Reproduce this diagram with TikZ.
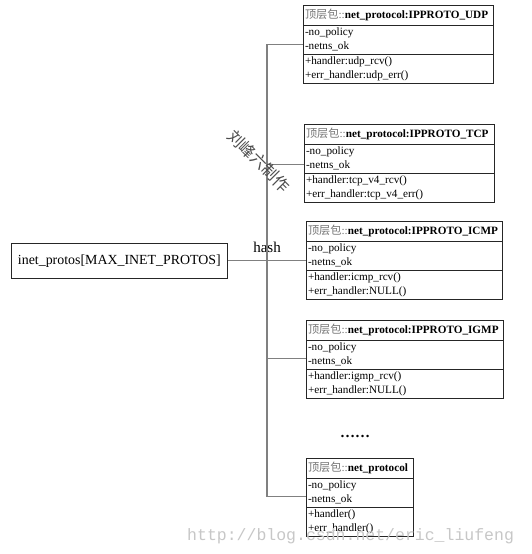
\documentclass[tikz,border=0pt]{standalone}
\usepackage{fontspec}
\setmainfont{Liberation Serif}
\setmonofont{Liberation Mono}
\newfontfamily\cjk{Noto Sans CJK SC}
\usetikzlibrary{positioning}
\tikzset{
  part/.style={rectangle, draw=black!85, line width=0.8pt, text width=#1,
    inner xsep=2pt, inner ysep=0pt, outer sep=0pt, align=left,
    font=\fontsize{11.2}{14}\selectfont},
  head/.style={part=#1, minimum height=20pt, anchor=north west},
  attr/.style={part=#1, minimum height=29pt},
  link/.style={draw=black!50, line width=1.5pt},
}
\newcommand{\pkgname}{\textcolor{black!55}{{\cjk 顶层包}::}}

\begin{document}
\begin{tikzpicture}[x=1pt, y=-1pt]
    \useasboundingbox (0,0) rectangle (531,554);
    % Klassen
    \node (udp_h) [head=186pt] at (303,5) {\pkgname\textbf{net\_protocol:IPPROTO\_UDP}};
    \node (udp_a) [attr=186pt, below=0pt of udp_h] {-no\_policy\\-netns\_ok};
    \node (udp_m) [attr=186pt, below=0pt of udp_a] {+handler:udp\_rcv()\\+err\_handler:udp\_err()};

    \node (tcp_h) [head=186pt] at (304,124) {\pkgname\textbf{net\_protocol:IPPROTO\_TCP}};
    \node (tcp_a) [attr=186pt, below=0pt of tcp_h] {-no\_policy\\-netns\_ok};
    \node (tcp_m) [attr=186pt, below=0pt of tcp_a] {+handler:tcp\_v4\_rcv()\\+err\_handler:tcp\_v4\_err()};

    \node (icmp_h) [head=192pt] at (306,221) {\pkgname\textbf{net\_protocol:IPPROTO\_ICMP}};
    \node (icmp_a) [attr=192pt, below=0pt of icmp_h] {-no\_policy\\-netns\_ok};
    \node (icmp_m) [attr=192pt, below=0pt of icmp_a] {+handler:icmp\_rcv()\\+err\_handler:NULL()};

    \node (igmp_h) [head=193pt] at (306,320) {\pkgname\textbf{net\_protocol:IPPROTO\_IGMP}};
    \node (igmp_a) [attr=193pt, below=0pt of igmp_h] {-no\_policy\\-netns\_ok};
    \node (igmp_m) [attr=193pt, below=0pt of igmp_a] {+handler:igmp\_rcv()\\+err\_handler:NULL()};

    \node (last_h) [head=103pt] at (306,458) {\pkgname\textbf{net\_protocol}};
    \node (last_a) [attr=103pt, below=0pt of last_h] {-no\_policy\\-netns\_ok};
    \node (last_m) [attr=103pt, below=0pt of last_a] {+handler()\\+err\_handler()};

    \node (more) [anchor=base, font=\bfseries\fontsize{15}{15}\selectfont] at (355,437) {……};

    % Array
    \node (inet) [draw=black!85, line width=0.8pt, anchor=north west, minimum width=216pt,
      minimum height=35pt, font=\fontsize{13.9}{16}\selectfont] at (11,243) {inet\_protos[MAX\_INET\_PROTOS]};
    \node (hash) [anchor=base, inner sep=0pt, font=\fontsize{15}{15}\selectfont] at (267,252) {hash};

    % Verbindungen
    \coordinate (trunk) at (267,262);
    \coordinate (udp_p) at ([yshift=-5pt]udp_a.west);
    \coordinate (tcp_p) at ([yshift=-6pt]tcp_a.west);
    \coordinate (icmp_p) at ([yshift=-5pt]icmp_a.west);
    \coordinate (igmp_p) at ([yshift=-4pt]igmp_a.west);
    \coordinate (last_p) at ([yshift=-4pt]last_a.west);
    \draw [link] (udp_p) -| (trunk) |- (last_p);
    \draw [link] (tcp_p) -- (tcp_p -| trunk);
    \draw [link] (igmp_p) -- (igmp_p -| trunk);
    \draw [link] (inet.east |- icmp_p) -- (icmp_p);

    % Wasserzeichen
    \node (mark) [rotate=-45, text=black!70, font=\cjk\fontsize{16}{16}\selectfont] at (259,161) {刘峰六制作};
    \node (url) [anchor=base west, inner sep=0pt, text=black!22, font=\ttfamily\fontsize{16.5}{16.5}\selectfont] at (187,540) {http://blog.csdn.net/eric\_liufeng};
\end{tikzpicture}
\end{document}
